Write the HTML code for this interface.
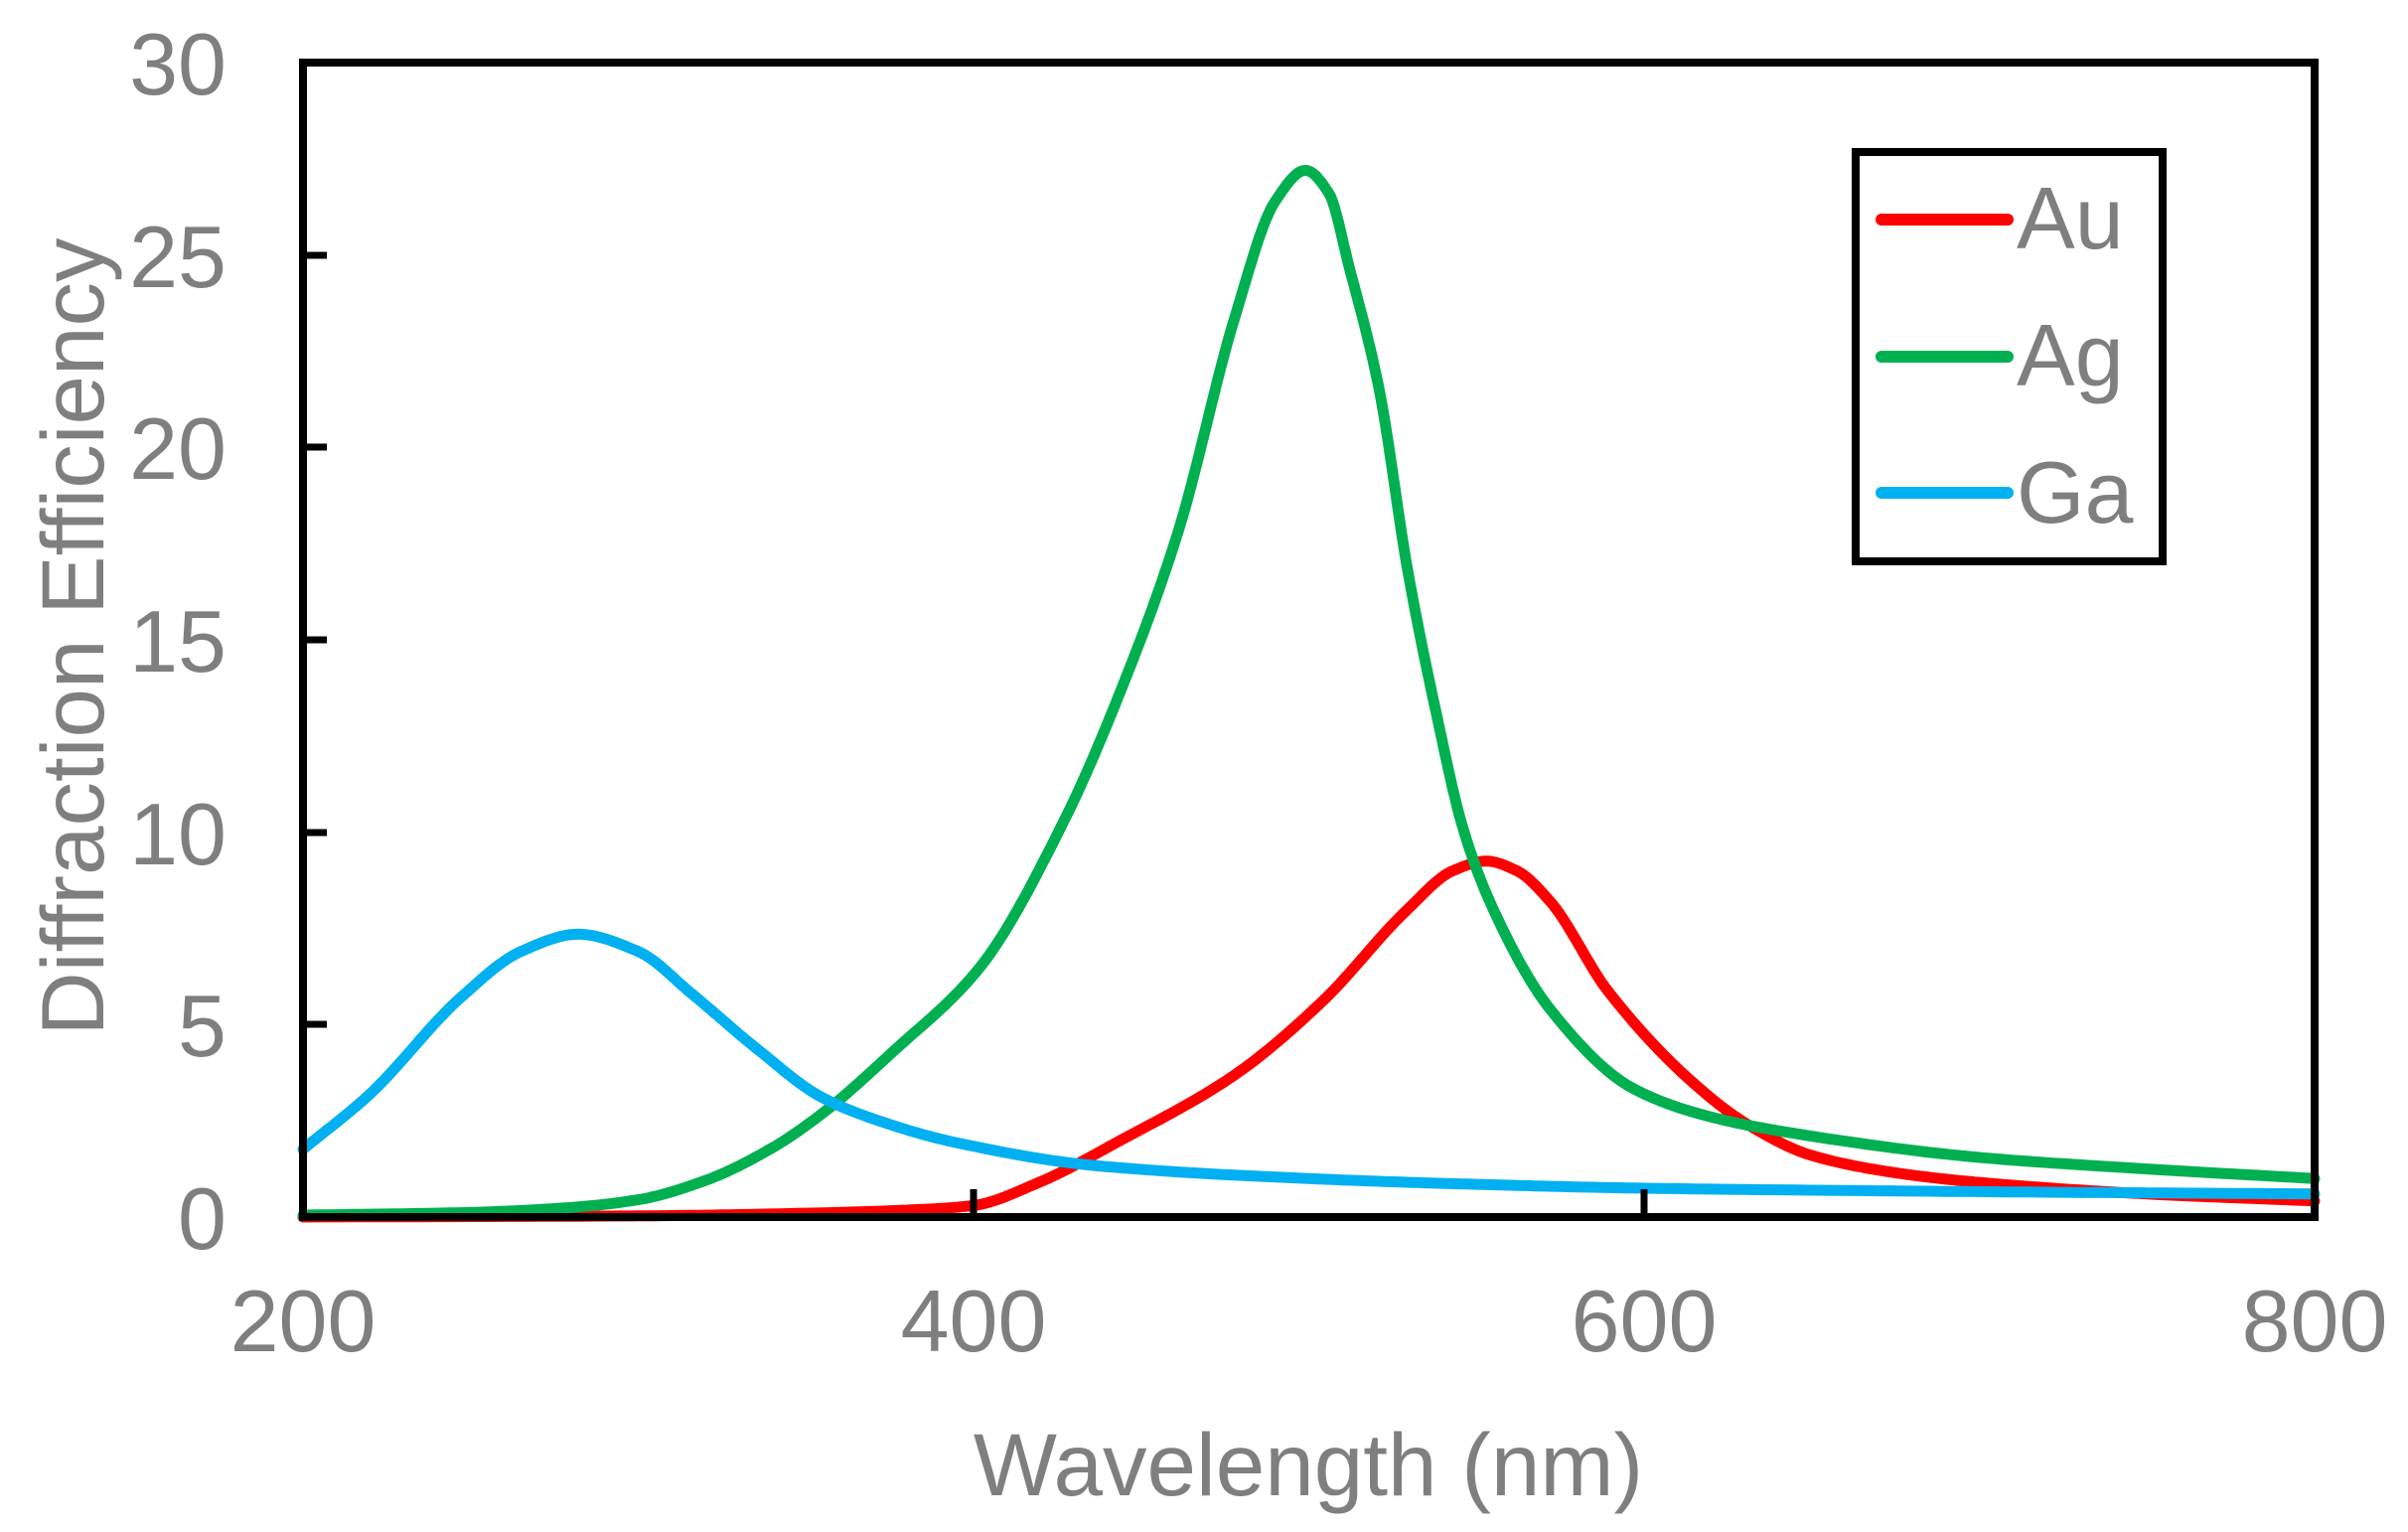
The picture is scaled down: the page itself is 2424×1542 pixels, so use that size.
<!DOCTYPE html>
<html><head><meta charset="utf-8"><style>
html,body{margin:0;padding:0;background:#fff;}
svg{display:block;}
text{font-family:"Liberation Sans",Arial,sans-serif;fill:#7f7f7f;}
</style></head><body>
<svg id="s" width="2424" height="1542" viewBox="0 0 2424 1542" xmlns="http://www.w3.org/2000/svg">
<g id="curves" fill="none" stroke-width="11" stroke-linecap="round" stroke-linejoin="round"></g>
<rect x="305" y="63" width="2025" height="1162" fill="none" stroke="#000" stroke-width="8"/>
<g stroke="#000" stroke-width="7">
<line x1="305" y1="257" x2="329" y2="257"/><line x1="305" y1="450" x2="329" y2="450"/>
<line x1="305" y1="644" x2="329" y2="644"/><line x1="305" y1="838" x2="329" y2="838"/>
<line x1="305" y1="1031" x2="329" y2="1031"/>
<line x1="980" y1="1225" x2="980" y2="1197"/><line x1="1655" y1="1225" x2="1655" y2="1197"/>
</g>
<g font-size="88" text-anchor="end">
<text x="228" y="95">30</text><text x="228" y="289">25</text><text x="228" y="482">20</text>
<text x="228" y="676">15</text><text x="228" y="870">10</text><text x="228" y="1063">5</text>
<text x="228" y="1257">0</text>
</g>
<g font-size="88" text-anchor="middle">
<text x="305" y="1360">200</text><text x="980" y="1360">400</text>
<text x="1655" y="1360">600</text><text x="2330" y="1360">800</text>
</g>
<text x="1317" y="1505" font-size="89" text-anchor="middle">Wavelength (nm)</text>
<text transform="translate(104,641) rotate(-90)" font-size="89" text-anchor="middle">Diffraction Efficiency</text>
<rect x="1868" y="153" width="309" height="412" fill="#fff" stroke="#000" stroke-width="8"/>
<g stroke-width="12" stroke-linecap="round">
<line x1="1894" y1="221" x2="2021" y2="221" stroke="#ff0000"/>
<line x1="1894" y1="359" x2="2021" y2="359" stroke="#00b050"/>
<line x1="1894" y1="496" x2="2021" y2="496" stroke="#00b0f0"/>
</g>
<g font-size="88">
<text x="2030" y="250">Au</text><text x="2030" y="388">Ag</text><text x="2030" y="526">Ga</text>
</g>
</svg>
<script>
function X(n){return 305+(n-200)*2025/600;}
function Y(v){return 1225-v*1162/30;}
var data={
"#00b0f0":[[200,1.76],[220,3.2],[247,5.7],[265,6.9],[282,7.35],[300,6.9],[316,5.8],[335,4.4],[355,3.1],[376,2.38],[394,1.95],[436,1.34],[500,1.0],[550,0.85],[600,0.75],[700,0.66],[800,0.6]],
"#00b050":[[200,0.05],[250,0.12],[280,0.25],[300,0.45],[320,0.95],[340,1.8],[355,2.7],[376,4.3],[402,6.5],[427,10.3],[444,13.7],[461,17.8],[478,23.4],[490,26.4],[499,27.2],[506,26.6],[512,24.7],[521,21.5],[529.5,16.8],[538,13.1],[546,10.1],[555,8.0],[572,5.4],[597,3.33],[620,2.6],[643,2.2],[700,1.55],[750,1.25],[800,1.0]],
"#ff0000":[[200,0.0],[300,0.03],[350,0.1],[385,0.2],[400,0.3],[419,0.88],[444,2.0],[478,3.7],[504,5.6],[529.5,8.0],[543,9.0],[553,9.25],[562,9.0],[572,8.2],[589,5.9],[614.5,3.5],[631,2.4],[650,1.6],[675,1.15],[700,0.9],[750,0.6],[800,0.42]]
};
function mono(p){
 var n=p.length,xs=p.map(a=>a[0]),ys=p.map(a=>a[1]),d=[],m=[];
 for(var i=0;i<n-1;i++)d.push((ys[i+1]-ys[i])/(xs[i+1]-xs[i]));
 m[0]=d[0];m[n-1]=d[n-2];
 for(var i=1;i<n-1;i++){ if(d[i-1]*d[i]<=0)m[i]=0; else {var w1=2*(xs[i+1]-xs[i])+(xs[i]-xs[i-1]),w2=(xs[i+1]-xs[i])+2*(xs[i]-xs[i-1]);m[i]=(w1+w2)/(w1/d[i-1]+w2/d[i]);} }
 var s="";
 for(var i=0;i<n-1;i++){
  var h=xs[i+1]-xs[i];
  for(var k=(i==0?0:1);k<=20;k++){
   var t=k/20,t2=t*t,t3=t2*t;
   var y=(2*t3-3*t2+1)*ys[i]+(t3-2*t2+t)*h*m[i]+(-2*t3+3*t2)*ys[i+1]+(t3-t2)*h*m[i+1];
   var x=xs[i]+t*h;
   s+=(s?"L":"M")+X(x).toFixed(1)+","+Y(y).toFixed(1);
  }
 }
 return s;
}
var g=document.getElementById("curves"),ns="http://www.w3.org/2000/svg";
["#ff0000","#00b050","#00b0f0"].forEach(function(c){
 var e=document.createElementNS(ns,"path");e.setAttribute("d",mono(data[c]));e.setAttribute("stroke",c);g.appendChild(e);
});
</script>
</body></html>
